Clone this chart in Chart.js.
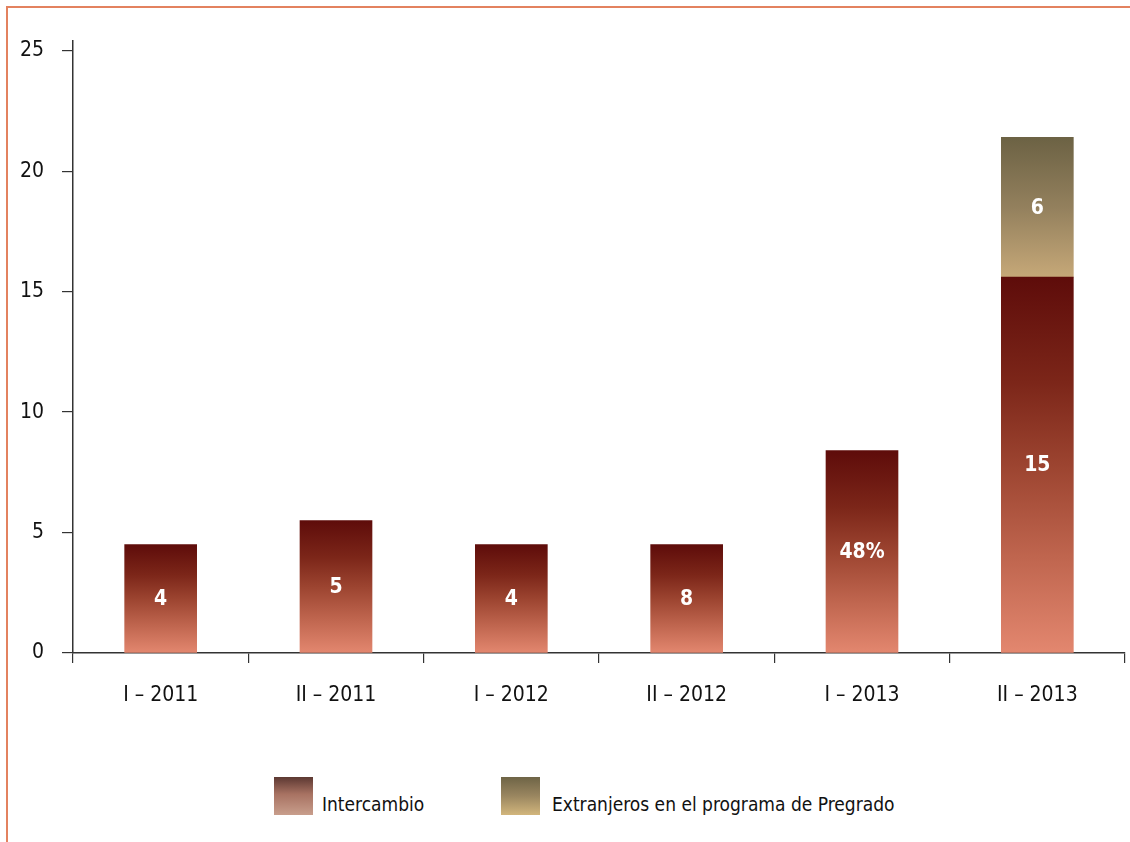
<!DOCTYPE html>
<html>
<head>
<meta charset="utf-8">
<script src="https://cdn.jsdelivr.net/npm/chart.js@4"></script>
<style>
  html, body { margin: 0; padding: 0; background: #fff; }
  body { width: 1130px; height: 842px; position: relative; overflow: hidden;
         font-family: "DejaVu Sans", sans-serif; font-stretch: condensed; }
  #frame { position: absolute; left: 6px; top: 6px; right: -10px; bottom: -10px;
           border-left: 2px solid #e3825f; border-top: 2px solid #e3825f; }
  #chart { position: absolute; left: 0; top: 0; }
  .leg { position: absolute; top: 777px; height: 38px; font-size: 19px; color: #111; }
  .leg .box { position: absolute; left: 0; top: 0; width: 39px; height: 38px; }
  .leg span { position: absolute; white-space: nowrap; top: 16px; }
</style>
</head>
<body>
<div id="frame"></div>
<canvas id="chart" width="1130" height="740"></canvas>
<div class="leg" style="left:274px">
  <div class="box" style="background:linear-gradient(#5c3832,#a87262 45%,#c89e8c)"></div>
  <span style="left:48px">Intercambio</span>
</div>
<div class="leg" style="left:501px">
  <div class="box" style="background:linear-gradient(#6e6446,#9a8660 50%,#d2b67c)"></div>
  <span style="left:51px">Extranjeros en el programa de Pregrado</span>
</div>
<script>
const categories = ['I – 2011', 'II – 2011', 'I – 2012', 'II – 2012', 'I – 2013', 'II – 2013'];
const intercambio = [4.5, 5.5, 4.5, 4.5, 8.4, 15.6];
const extranjeros = [null, null, null, null, null, 5.8];
const intercambioLabels = ['4', '5', '4', '8', '48%', '15'];
const extranjerosLabels = [null, null, null, null, null, '6'];
const yTicks = [0, 5, 10, 15, 20, 25];

const FONT = '"DejaVu Sans", sans-serif';
const seriesList = [intercambio, extranjeros];

// gradient per bar, dark at the top and light at the base
function barGradient(stops) {
  return (ctx) => {
    const chart = ctx.chart;
    const y = chart.scales.y;
    if (!y || ctx.type !== 'data') return stops[2][1];
    const i = ctx.dataIndex;
    let base = 0;
    for (let d = 0; d < ctx.datasetIndex; d++) base += seriesList[d][i] || 0;
    const top = base + (seriesList[ctx.datasetIndex][i] || 0);
    const y0 = y.getPixelForValue(top), y1 = y.getPixelForValue(base);
    if (!isFinite(y0) || !isFinite(y1)) return stops[2][1];
    const g = chart.ctx.createLinearGradient(0, y0, 0, y1);
    stops.forEach(([p, c]) => g.addColorStop(p, c));
    return g;
  };
}

const barLabels = {
  id: 'barLabels',
  afterDatasetsDraw(chart) {
    const c = chart.ctx;
    const all = [intercambioLabels, extranjerosLabels];
    c.save();
    c.fillStyle = '#fff';
    c.font = 'bold condensed 21px ' + FONT;
    c.textAlign = 'center';
    c.textBaseline = 'middle';
    chart.data.datasets.forEach((ds, d) => {
      chart.getDatasetMeta(d).data.forEach((bar, i) => {
        const txt = all[d][i];
        if (!txt) return;
        const p = bar.getCenterPoint();
        c.fillText(txt, p.x, p.y + 1);
      });
    });
    c.restore();
  }
};

const tickFont = { family: FONT, size: 21, weight: 'condensed' };

new Chart(document.getElementById('chart'), {
  type: 'bar',
  data: {
    labels: categories,
    datasets: [
      {
        label: 'Intercambio',
        data: intercambio,
        backgroundColor: barGradient([[0, '#5e0c0a'], [0.28, '#7c2619'], [0.5, '#9c4430'], [0.75, '#c0664f'], [1, '#e3876f']]),
        barThickness: 72
      },
      {
        label: 'Extranjeros en el programa de Pregrado',
        data: extranjeros,
        backgroundColor: barGradient([[0, '#6c6244'], [0.5, '#93805d'], [1, '#c6a878']]),
        barThickness: 72
      }
    ]
  },
  options: {
    responsive: false,
    animation: false,
    layout: { padding: { top: 41, right: 5, left: 0, bottom: 0 } },
    plugins: { legend: { display: false }, tooltip: { enabled: false } },
    scales: {
      x: {
        stacked: true,
        offset: true,
        grid: { offset: true, drawOnChartArea: false, drawTicks: true, tickLength: 10, color: '#333', lineWidth: 1.2 },
        border: { color: '#333', width: 1.5 },
        ticks: { color: '#111', font: tickFont, padding: 20 },
        afterFit: (s) => { s.height = 87; }
      },
      y: {
        stacked: true,
        min: 0,
        max: 25.4,
        afterBuildTicks: (s) => { s.ticks = yTicks.map(v => ({ value: v })); },
        grid: { drawOnChartArea: false, drawTicks: true, tickLength: 11, color: '#333', lineWidth: 1.2 },
        border: { color: '#333', width: 1.5 },
        ticks: { color: '#111', font: tickFont, padding: 18 },
        afterFit: (s) => { s.width = 73; }
      }
    }
  },
  plugins: [barLabels]
});
</script>
</body>
</html>
